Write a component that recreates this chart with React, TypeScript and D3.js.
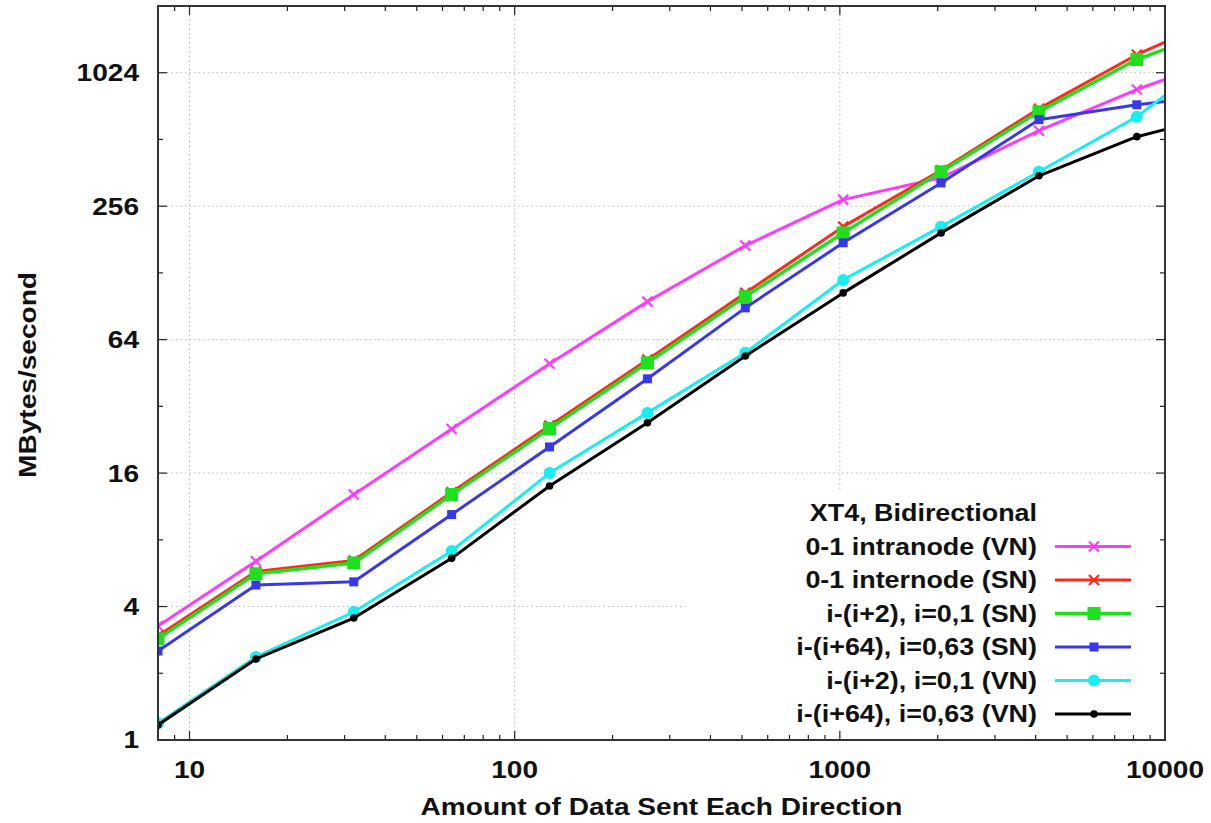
import React from 'react';
import * as d3 from 'd3';

// Message sizes (x) and bandwidth values (MBytes/second)
const messageSizes = [8, 16, 32, 64, 128, 256, 512, 1024, 2048, 4096, 8192, 16384];
const intranodeVN = [3.27, 6.4, 12.8, 25.3, 49.8, 95, 170, 274, 344, 561, 860, 1245];
const internodeSN = [2.95, 5.75, 6.45, 13.1, 26.2, 52, 104, 207, 372, 705, 1235, 1940];
const pair2SN = [2.86, 5.62, 6.29, 12.8, 25.4, 50.3, 100, 194, 366, 683, 1175, 1700];
const pair64SN = [2.52, 5.0, 5.17, 10.4, 21, 42.6, 89, 175, 326, 629, 734, 825];
const pair2VN = [1.19, 2.37, 3.78, 7.13, 16, 29.9, 55.8, 119, 207, 366, 648, 1400];
const pair64VN = [1.17, 2.32, 3.55, 6.6, 14.0, 27, 54, 104, 194, 351, 527, 682];

const seriesLabels = [
  '0-1 intranode (VN)',
  '0-1 internode (SN)',
  'i-(i+2), i=0,1 (SN)',
  'i-(i+64), i=0,63 (SN)',
  'i-(i+2), i=0,1 (VN)',
  'i-(i+64), i=0,63 (VN)',
];
const seriesValues = [intranodeVN, internodeSN, pair2SN, pair64SN, pair2VN, pair64VN];
const seriesColors = ['#ff3cff', '#ff2a1a', '#1ee01e', '#3838e8', '#16eef0', '#000000'];
const seriesMarkers = ['x', 'x', 'bigsquare', 'square', 'circle', 'dot'];

const legendTitle = 'XT4, Bidirectional';
const xTickLabels = [10, 100, 1000, 10000];
const yTickLabels = [1, 4, 16, 64, 256, 1024];
const xTitle = 'Amount of Data Sent Each Direction';
const yTitle = 'MBytes/second';

const FONT = "'Liberation Sans', Arial, Helvetica, sans-serif";
const STRETCH = 1.17;

function SText({ x, y, anchor = 'middle', size = 24, rotate = false, children }: any) {
  return (
    <g transform={`translate(${x},${y})${rotate ? ' rotate(-90)' : ''} scale(${STRETCH},1)`}>
      <text
        textAnchor={anchor}
        fontSize={size}
        fontWeight="bold"
        fontFamily={FONT}
        fill="#111"
        dy="0.35em"
      >
        {children}
      </text>
    </g>
  );
}

function Marker({ type, cx, cy, color }: any) {
  if (type === 'x') {
    const s = 5;
    return (
      <g stroke={color} strokeWidth={2.2}>
        <line x1={cx - s} y1={cy - s} x2={cx + s} y2={cy + s} />
        <line x1={cx - s} y1={cy + s} x2={cx + s} y2={cy - s} />
      </g>
    );
  }
  if (type === 'bigsquare') {
    const s = 6.5;
    return <rect x={cx - s} y={cy - s} width={2 * s} height={2 * s} fill={color} />;
  }
  if (type === 'square') {
    const s = 4.5;
    return <rect x={cx - s} y={cy - s} width={2 * s} height={2 * s} fill={color} />;
  }
  if (type === 'circle') {
    return <circle cx={cx} cy={cy} r={6} fill={color} />;
  }
  return <circle cx={cx} cy={cy} r={3.8} fill={color} />;
}

export default function App() {
  const W = 1211;
  const H = 823;
  const left = 158;
  const right = 1165;
  const top = 6;
  const bottom = 740;

  const x = d3.scaleLog().domain([8, 10000]).range([left, right]);
  const y = d3.scaleLog().base(2).domain([1, 2048]).range([bottom, top]);

  const xMinor: number[] = [];
  [1, 10, 100, 1000].forEach((d) => {
    for (let k = 2; k <= 9; k++) {
      const v = d * k;
      if (v > 8 && v < 10000) xMinor.push(v);
    }
  });
  const xMajor = xTickLabels;
  const yAll = d3.range(0, 12).map((p) => Math.pow(2, p));
  const yMinor = yAll.filter((v) => !yTickLabels.includes(v));

  const line = d3
    .line<[number, number]>()
    .x((d) => x(d[0]))
    .y((d) => y(d[1]));

  const majorLen = 9;
  const minorLen = 5;

  const legendRowY = (i: number) => 513 + 33.5 * i;

  return (
    <svg
      width={W}
      height={H}
      style={{ position: 'absolute', left: 0, top: 0, background: '#fff' }}
    >
      <defs>
        <clipPath id="plotClip">
          <rect x={left} y={top} width={right - left} height={bottom - top} />
        </clipPath>
      </defs>
      <rect x={0} y={0} width={W} height={H} fill="#fff" />

      {/* grid */}
      <g stroke="#b8b8b8" strokeWidth={1} strokeDasharray="1.5,3">
        {xMajor
          .filter((v) => v < 10000)
          .map((v) => (
            <line key={'gx' + v} x1={x(v)} x2={x(v)} y1={top} y2={bottom} />
          ))}
        {yTickLabels
          .filter((v) => v > 1)
          .map((v) => (
            <line key={'gy' + v} x1={left} x2={right} y1={y(v)} y2={y(v)} />
          ))}
      </g>

      {/* opaque legend box */}
      <rect x={685} y={490} width={476} height={247} fill="#fff" />

      {/* series */}
      <g clipPath="url(#plotClip)">
        {seriesValues.map((vals, i) => {
          const pts = messageSizes.map((s, j) => [s, vals[j]] as [number, number]);
          return (
            <g key={'s' + i}>
              <path
                d={line(pts) || ''}
                fill="none"
                stroke={seriesColors[i]}
                strokeWidth={i === 2 ? 3.5 : 3}
                strokeLinejoin="round"
              />
              {pts.map((p, j) => (
                <Marker
                  key={j}
                  type={seriesMarkers[i]}
                  cx={x(p[0])}
                  cy={y(p[1])}
                  color={seriesColors[i]}
                />
              ))}
            </g>
          );
        })}
      </g>

      {/* ticks */}
      <g stroke="#222" strokeWidth={1.2}>
        {xMajor.map((v) => (
          <g key={'tx' + v}>
            <line x1={x(v)} x2={x(v)} y1={bottom} y2={bottom - majorLen} />
            <line x1={x(v)} x2={x(v)} y1={top} y2={top + majorLen} />
          </g>
        ))}
        {xMinor.map((v) => (
          <g key={'mx' + v}>
            <line x1={x(v)} x2={x(v)} y1={bottom} y2={bottom - minorLen} />
            <line x1={x(v)} x2={x(v)} y1={top} y2={top + minorLen} />
          </g>
        ))}
        {yTickLabels.map((v) => (
          <g key={'ty' + v}>
            <line x1={left} x2={left + majorLen} y1={y(v)} y2={y(v)} />
            <line x1={right} x2={right - majorLen} y1={y(v)} y2={y(v)} />
          </g>
        ))}
        {yMinor.map((v) => (
          <g key={'my' + v}>
            <line x1={left} x2={left + minorLen} y1={y(v)} y2={y(v)} />
            <line x1={right} x2={right - minorLen} y1={y(v)} y2={y(v)} />
          </g>
        ))}
      </g>

      {/* frame */}
      <rect
        x={left}
        y={top}
        width={right - left}
        height={bottom - top}
        fill="none"
        stroke="#333"
        strokeWidth={2}
      />

      {/* tick labels */}
      {yTickLabels.map((v) => (
        <SText key={'ly' + v} x={139} y={y(v)} anchor="end" size={24}>
          {String(v)}
        </SText>
      ))}
      {xTickLabels.map((v) => (
        <SText key={'lx' + v} x={x(v)} y={770} anchor="middle" size={24}>
          {String(v)}
        </SText>
      ))}

      {/* axis titles */}
      <SText x={(left + right) / 2} y={807} anchor="middle" size={24}>
        {xTitle}
      </SText>
      <SText x={28} y={375} anchor="middle" size={24} rotate>
        {yTitle}
      </SText>

      {/* legend */}
      <SText x={1037} y={legendRowY(0)} anchor="end" size={23}>
        {legendTitle}
      </SText>
      {seriesLabels.map((lab, i) => {
        const ly = legendRowY(i + 1);
        return (
          <g key={'lg' + i}>
            <SText x={1037} y={ly} anchor="end" size={23}>
              {lab}
            </SText>
            <line
              x1={1055}
              x2={1131}
              y1={ly}
              y2={ly}
              stroke={seriesColors[i]}
              strokeWidth={i === 2 ? 3.5 : 3}
            />
            <Marker type={seriesMarkers[i]} cx={1094} cy={ly} color={seriesColors[i]} />
          </g>
        );
      })}
    </svg>
  );
}
